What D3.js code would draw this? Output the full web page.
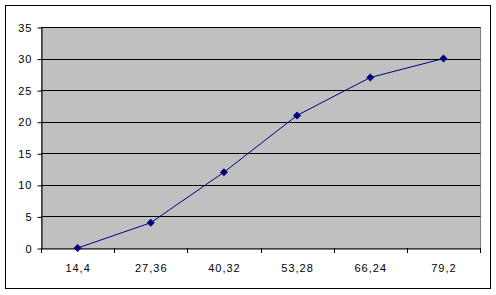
<!DOCTYPE html>
<html><head><meta charset="utf-8">
<script src="https://cdn.jsdelivr.net/npm/d3@7"></script>
<style>body{margin:0;background:#fff}svg{display:block}text{font-family:"Liberation Sans",Arial,sans-serif;font-size:11px;fill:#000}</style>
</head><body><svg id="c" width="496" height="295"></svg>
<script>
const categories = ["14,4","27,36","40,32","53,28","66,24","79,2"];
const values = [0, 4, 12, 21, 27, 30];
const yTicks = [0,5,10,15,20,25,30,35];

const svg = d3.select("#c");
svg.append("rect").attr("x",5.5).attr("y",5.5).attr("width",485).attr("height",283)
  .attr("fill","#fff").attr("stroke","#000").attr("stroke-width",1);

const L=41, R=480, T=27, B=248;
const x = d3.scaleBand().domain(categories).range([L,R]);
const y = d3.scaleLinear().domain([0,35]).range([B,T]);

svg.append("rect").attr("x",L+0.5).attr("y",T+0.5).attr("width",R-L).attr("height",B-T)
  .attr("fill","#c0c0c0").attr("stroke","#808080");

svg.append("g").selectAll("line").data(yTicks.filter(d=>d>0)).join("line")
  .attr("x1",L).attr("x2",R+0.5).attr("y1",d=>Math.round(y(d))+0.5).attr("y2",d=>Math.round(y(d))+0.5)
  .attr("stroke","#000");

const yAxis = svg.append("g").attr("transform",`translate(${L+0.5},0.5)`)
  .call(d3.axisLeft(y).tickValues(yTicks).tickSize(4).tickSizeOuter(0).tickPadding(5));
yAxis.select(".domain").attr("stroke","#000");
yAxis.selectAll("text").style("font-size","11px").style("letter-spacing","1px").style("font-family","Liberation Sans, Arial, sans-serif");

const xAxis = svg.append("g").attr("transform",`translate(0.5,${B+0.5})`)
  .call(d3.axisBottom(x).tickSize(0).tickPadding(16));
xAxis.select(".domain").attr("stroke","#000");
xAxis.selectAll("text").style("font-size","11px").style("letter-spacing","1px").style("font-family","Liberation Sans, Arial, sans-serif");
svg.append("g").selectAll("line").data(categories.concat(["__end"])).join("line")
  .attr("x1",(d,i)=>Math.round(L+i*x.bandwidth())+0.5).attr("x2",(d,i)=>Math.round(L+i*x.bandwidth())+0.5)
  .attr("y1",B).attr("y2",B+5).attr("stroke","#000");

const line = d3.line().x((d,i)=>x(categories[i])+x.bandwidth()/2).y(d=>y(d));
svg.append("path").datum(values).attr("d",line).attr("fill","none").attr("stroke","#000080").attr("stroke-width",1);
svg.append("g").selectAll("path").data(values).join("path")
  .attr("transform",(d,i)=>`translate(${x(categories[i])+x.bandwidth()/2},${y(d)})`)
  .attr("d","M0,-4L4,0L0,4L-4,0Z").attr("fill","#000080");
</script></body></html>
